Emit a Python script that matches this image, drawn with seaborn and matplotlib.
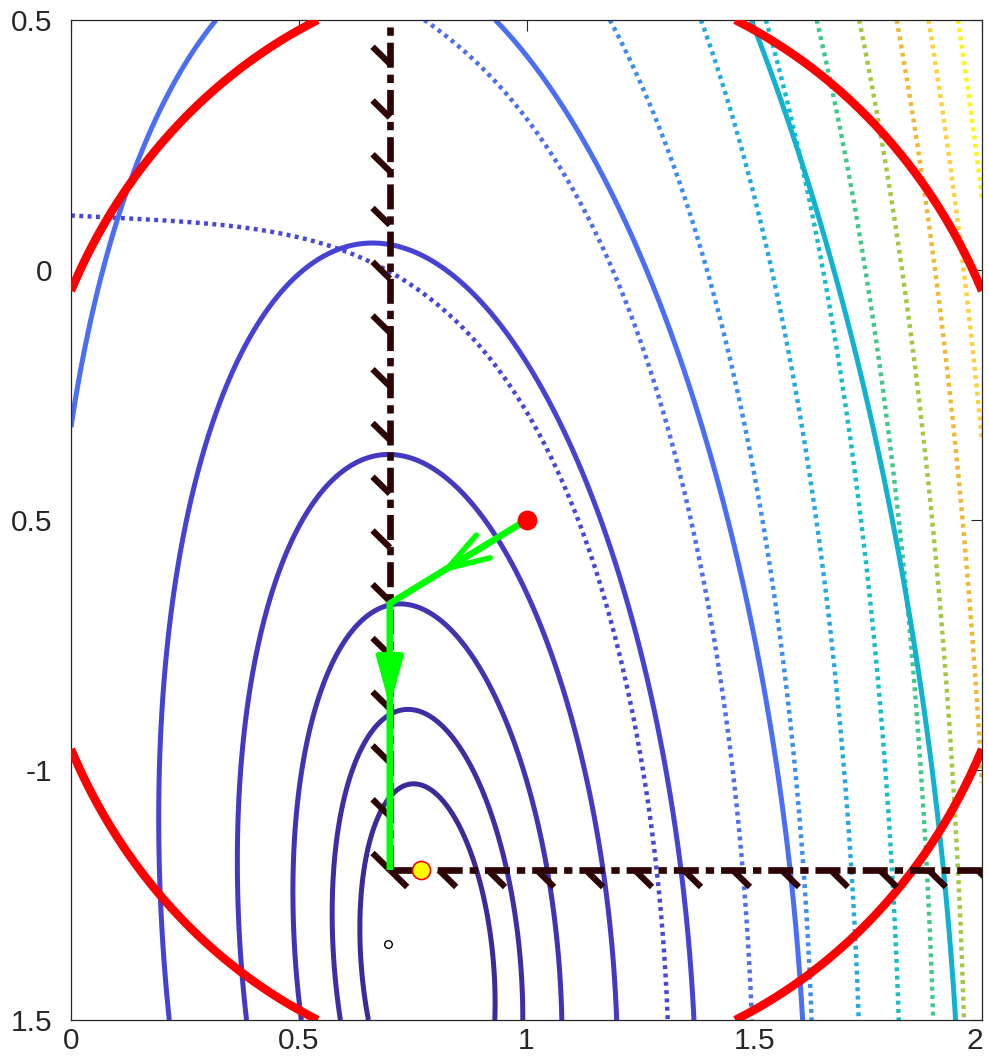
import numpy as np
import matplotlib
matplotlib.use("Agg")
import matplotlib.pyplot as plt
import matplotlib.transforms as mtransforms
import seaborn as sns

# ---------------- data ----------------
X_RANGE = [0.0, 2.0]
Y_RANGE = [-1.5, 0.5]

# objective f(x, y) = x^4 + x*y + (1 + y)^2  (dotted contours)
OBJ_LEVELS = [1.23, 3.0, 4.8, 6.6, 8.43, 10.25, 12.08, 13.95, 15.75, 17.6]
OBJ_COLORS = ["#4646da", "#4c6ef2", "#3a8ef0", "#22a8e2", "#14bec8",
              "#40c88a", "#a2c840", "#f0b832", "#fdd03c", "#fbf514"]

# quadratic model of f around the current iterate (solid contours)
CURRENT_POINT = [1.0, -0.5]
MODEL_LEVELS = [-0.395, -0.27, -0.02, 0.48, 1.48, 3.47, 7.43]
MODEL_COLORS = ["#3c2a9a", "#3e2ea6", "#4033b4", "#4339c3", "#4643d4",
                "#4a6ef5", "#10b2d2"]

TRUST_RADIUS = 1.1

BOUND_X = 0.7
BOUND_Y = -1.2
HATCH_STEP = 0.1075
HATCH_DX = 0.038
HATCH_DY = 0.034

PATH_X = [1.0, 0.7, 0.7]
PATH_Y = [-0.5, -0.667, -1.2]
ARROW_TIPS_X = [0.81, 0.7]
ARROW_TIPS_Y = [-0.606, -0.874]

CAUCHY_POINT = [0.769, -1.2]
MINIMIZER = [0.696, -1.348]

X_TICKS = [0, 0.5, 1, 1.5, 2]
X_TICK_LABELS = ["0", "0.5", "1", "1.5", "2"]
Y_TICKS = [0.5, 0, -0.5, -1, -1.5]
Y_TICK_LABELS = ["0.5", "0", "0.5", "-1", "1.5"]

# ---------------- styling ----------------
sns.set_theme(style="white")
plt.rcParams["font.family"] = ["Liberation Sans", "DejaVu Sans"]
plt.rcParams["lines.scale_dashes"] = False

W, H = 988, 1063
fig = plt.figure(figsize=(W / 100, H / 100), dpi=100)
ax = fig.add_axes([71 / W, (H - 1020) / H, 911 / W, 1000 / H])


def objective(x, y):
    return x ** 4 + x * y + (1 + y) ** 2


def model(x, y, x0, y0):
    f0 = objective(x0, y0)
    gx = 4 * x0 ** 3 + y0
    gy = x0 + 2 * (1 + y0)
    hxx, hxy, hyy = 12 * x0 ** 2, 1.0, 2.0
    dx, dy = x - x0, y - y0
    return f0 + gx * dx + gy * dy + 0.5 * (hxx * dx ** 2 + 2 * hxy * dx * dy + hyy * dy ** 2)


xg = np.linspace(X_RANGE[0], X_RANGE[1], 801)
yg = np.linspace(Y_RANGE[0], Y_RANGE[1], 801)
XX, YY = np.meshgrid(xg, yg)
FZ = objective(XX, YY)
MZ = model(XX, YY, CURRENT_POINT[0], CURRENT_POINT[1])
DIST = np.hypot(XX - CURRENT_POINT[0], YY - CURRENT_POINT[1])

cs_obj = ax.contour(XX, YY, FZ, levels=OBJ_LEVELS, colors=OBJ_COLORS,
                    linewidths=3.2, zorder=2)
cs_obj.set_linestyle((0, (2.8, 3.2)))
cs_obj.set_capstyle("butt")

cs_mod = ax.contour(XX, YY, MZ, levels=MODEL_LEVELS, colors=MODEL_COLORS,
                    linewidths=3.6, zorder=2.2)

# trust region boundary
cs_tr = ax.contour(XX, YY, DIST, levels=[TRUST_RADIUS], colors=["#ff0000"],
                   linewidths=6.1, zorder=3)
cs_tr.set_capstyle("butt")

# bound constraints (dash-dot lines with hatches)
dark = "#2e0303"
dash = (0, (18, 5, 6, 5))
ax.plot([BOUND_X, BOUND_X], [BOUND_Y, Y_RANGE[1]], color=dark, lw=4.8,
        linestyle=dash, solid_capstyle="butt", dash_capstyle="butt", zorder=4)
ax.plot([BOUND_X, X_RANGE[1]], [BOUND_Y, BOUND_Y], color=dark, lw=4.8,
        linestyle=dash, solid_capstyle="butt", dash_capstyle="butt", zorder=4)
k = 0
while BOUND_Y + k * HATCH_STEP <= Y_RANGE[1] - 0.01:
    yk = BOUND_Y + k * HATCH_STEP
    ax.plot([BOUND_X - HATCH_DX, BOUND_X], [yk + HATCH_DY, yk], color=dark,
            lw=4.5, solid_capstyle="butt", zorder=4)
    k += 1
k = 0
while BOUND_X + k * HATCH_STEP <= X_RANGE[1] - 0.01:
    xk = BOUND_X + k * HATCH_STEP
    ax.plot([xk, xk + HATCH_DX], [BOUND_Y, BOUND_Y - HATCH_DY], color=dark,
            lw=4.5, solid_capstyle="butt", zorder=4)
    k += 1

# step path
sns.lineplot(x=PATH_X, y=PATH_Y, sort=False, estimator=None, ax=ax,
             color="#00ff00", lw=4.8, zorder=5)
ax.lines[-1].set_solid_capstyle("butt")
seg_ends = [(PATH_X[0], PATH_Y[0]), (PATH_X[1], PATH_Y[1])]
for i, (tx, ty) in enumerate(zip(ARROW_TIPS_X, ARROW_TIPS_Y)):
    sx, sy = seg_ends[i]
    style = ("->,head_length=1.25,head_width=0.4" if i == 0
             else "-|>,head_length=1.25,head_width=0.34")
    ax.annotate("", xy=(tx, ty), xytext=(tx + (sx - tx) * 0.3, ty + (sy - ty) * 0.3),
                arrowprops=dict(arrowstyle=style, color="#00ff00", lw=4.0,
                                mutation_scale=24, shrinkA=0, shrinkB=0),
                zorder=5)

# points
sns.scatterplot(x=[CURRENT_POINT[0]], y=[CURRENT_POINT[1]], ax=ax, s=190,
                color="#ff0000", edgecolor="#ff0000", linewidth=0.5, zorder=6)
sns.scatterplot(x=[CAUCHY_POINT[0]], y=[CAUCHY_POINT[1]], ax=ax, s=170,
                color="#ffff00", edgecolor="#ff0000", linewidth=1.2, zorder=6)
sns.scatterplot(x=[MINIMIZER[0]], y=[MINIMIZER[1]], ax=ax, s=30,
                color="white", edgecolor="black", linewidth=1.0, zorder=6)

# axes
ax.set_xlim(X_RANGE)
ax.set_ylim(Y_RANGE)
ax.set_xticks(X_TICKS)
ax.set_xticklabels(X_TICK_LABELS)
ax.set_yticks(Y_TICKS)
ax.set_yticklabels(Y_TICK_LABELS)
ax.tick_params(direction="in", length=7.7, width=0.8, color="#262626",
               labelsize=21.5, labelcolor="#262626", top=True, right=True,
               pad=13.5)
ax.tick_params(axis="x", pad=5)
# keep the last x label inside the canvas
last = ax.get_xticklabels()[-1]
last.set_transform(last.get_transform() +
                   mtransforms.ScaledTranslation(-7 / 100, 0, fig.dpi_scale_trans))
for sp in ax.spines.values():
    sp.set_color("#262626")
    sp.set_linewidth(0.9)
    sp.set_visible(True)
ax.set_xlabel("")
ax.set_ylabel("")
ax.grid(False)
ax.set_facecolor("white")

fig.savefig("out.png", dpi=100)
